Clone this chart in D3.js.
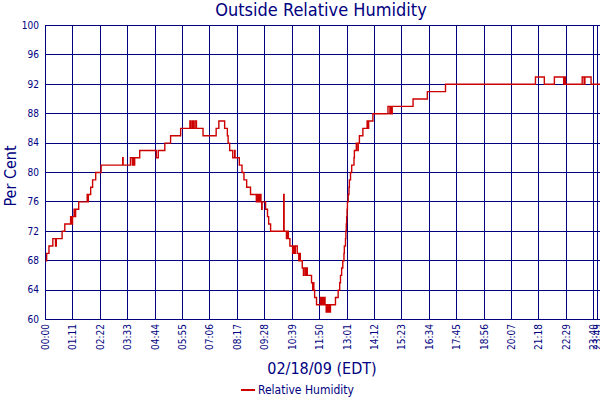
<!DOCTYPE html>
<html><head><meta charset="utf-8">
<script src="https://cdn.jsdelivr.net/npm/d3@7"></script>
<style>body{margin:0;background:#fff}svg{display:block}</style>
</head><body><svg id="c" width="600" height="400"></svg>
<script>
const times = ["00:00","00:03","00:09","00:19","00:26","00:28","00:43","00:50","01:05","01:08","01:10","01:14","01:16","01:18","01:26","01:48","01:49","01:51","01:57","02:02","02:10","02:24","03:20","03:21","03:40","03:45","03:46","03:49","03:51","04:04","04:47","04:52","05:09","05:24","05:50","06:14","06:16","06:20","06:23","06:27","06:31","06:48","07:22","07:29","07:44","07:51","07:53","07:57","08:05","08:10","08:11","08:22","08:29","08:34","08:41","08:51","09:06","09:09","09:12","09:15","09:18","09:20","09:21","09:30","09:35","09:38","09:43","10:17","10:18","10:24","10:27","10:29","10:33","10:40","10:42","10:45","10:47","10:52","10:56","10:58","11:00","11:05","11:08","11:09","11:13","11:15","11:18","11:29","11:32","11:33","11:35","11:37","11:42","11:52","11:55","11:57","11:59","12:01","12:04","12:07","12:09","12:12","12:14","12:16","12:18","12:31","12:38","12:42","12:44","12:47","12:50","12:53","12:54","12:57","12:58","12:59","13:00","13:01","13:02","13:04","13:06","13:07","13:10","13:13","13:19","13:20","13:25","13:29","13:30","13:33","13:42","13:53","13:55","13:57","14:08","14:47","14:52","14:54","14:56","14:58","15:52","16:29","17:16","21:09","21:32","21:58","22:22","22:24","22:27","23:10","23:15","23:17","23:33","23:59"];
const humidity = [68,69,70,71,70,71,72,73,74,73,74,75,74,75,76,77,76,77,78,79,80,81,82,81,82,81,82,81,82,83,82,83,84,85,86,87,86,87,86,87,86,85,86,87,86,85,84,83,82,83,82,81,80,79,78,77,76,77,76,77,76,75,76,75,74,73,72,77,72,71,72,71,70,69,70,69,70,69,68,69,68,67,66,67,66,67,66,65,64,65,64,63,62,63,62,63,62,63,62,61,62,61,62,61,62,63,64,65,66,67,68,69,70,71,72,73,74,75,76,77,78,79,80,81,82,83,84,83,84,85,86,87,86,87,88,89,88,89,88,89,90,91,92,93,92,93,92,93,92,93,92,93,92,92];
const yTicks = [60,64,68,72,76,80,84,88,92,96,100];
const xTickLabels = ["00:00","01:11","02:22","03:33","04:44","05:55","07:06","08:17","09:28","10:39","11:50","13:01","14:12","15:23","16:34","17:45","18:56","20:07","21:18","22:29","23:40","23:49"];
const title = "Outside Relative Humidity";
const xTitle = "02/18/09 (EDT)";
const yTitle = "Per Cent";
const seriesName = "Relative Humidity";

const toMin = s => { const [h,m] = s.split(":").map(Number); return h*60+m; };
const data = times.map((t,i)=>({t:toMin(t), v:humidity[i]}));

const navy = "#000080", red = "#cc0000";
const font = 'Tahoma, "DejaVu Sans Condensed", "DejaVu Sans", sans-serif';
const L = 45, T = 25, B = 319, R = 600.6;
const svg = d3.select("#c").style("font-family", font);

const x = d3.scaleLinear().domain([0,1439]).range([L,R]);
const y = d3.scaleLinear().domain([60,100]).range([B,T]);

svg.append("defs").append("clipPath").attr("id","clip")
  .append("rect").attr("x",L).attr("y",T-1).attr("width",R-L).attr("height",B-T+2);

// y axis + horizontal grid
const ya = svg.append("g").attr("transform",`translate(${L},0)`)
  .call(d3.axisLeft(y).tickValues(yTicks).tickSize(-(R-L)).tickSizeOuter(0).tickPadding(6).tickFormat(d3.format("d")));
ya.select(".domain").attr("stroke",navy);
ya.selectAll(".tick line").attr("stroke",navy).attr("shape-rendering","crispEdges");
ya.selectAll(".tick text").attr("fill",navy).style("font-size","10px").style("font-family",font);

// x axis + vertical grid
const xVals = xTickLabels.map(toMin);
const xa = svg.append("g").attr("transform",`translate(0,${B})`)
  .call(d3.axisBottom(x).tickValues(xVals).tickSize(-(B-T)).tickSizeOuter(0)
    .tickFormat((d,i)=>xTickLabels[i]));
xa.select(".domain").attr("stroke",navy).attr("shape-rendering","crispEdges");
xa.selectAll(".tick line").attr("stroke",navy).attr("shape-rendering","crispEdges");
xa.selectAll(".tick text").attr("fill",navy).style("font-size","10px").style("font-family",font)
  .attr("transform","rotate(-90)").attr("text-anchor","end")
  .attr("x",-5).attr("y",0).attr("dy","0.35em");

// top border
svg.append("line").attr("x1",L).attr("x2",600).attr("y1",T+0.5).attr("y2",T+0.5)
  .attr("stroke",navy).attr("shape-rendering","crispEdges");

// line
const line = d3.line().curve(d3.curveStepAfter).x(d=>x(d.t)).y(d=>y(d.v));
svg.append("g").attr("clip-path","url(#clip)")
  .append("path").datum(data).attr("transform","translate(0.5,0.5)")
  .attr("d",line).attr("fill","none").attr("stroke",red).attr("stroke-width",1.4);

// titles
svg.append("text").attr("x",321).attr("y",16).attr("text-anchor","middle")
  .attr("fill",navy).style("font-size","18px").text(title);
svg.append("text").attr("x",322).attr("y",374).attr("text-anchor","middle")
  .attr("fill",navy).style("font-size","16px").text(xTitle);
svg.append("text").attr("transform","translate(16,176) rotate(-90)").attr("text-anchor","middle")
  .attr("fill",navy).style("font-size","16px").text(yTitle);

// legend
svg.append("line").attr("x1",241).attr("x2",255).attr("y1",390).attr("y2",390)
  .attr("stroke",red).attr("stroke-width",2);
svg.append("text").attr("x",258).attr("y",394).attr("fill",navy)
  .style("font-size","12px").text(seriesName);
</script></body></html>
